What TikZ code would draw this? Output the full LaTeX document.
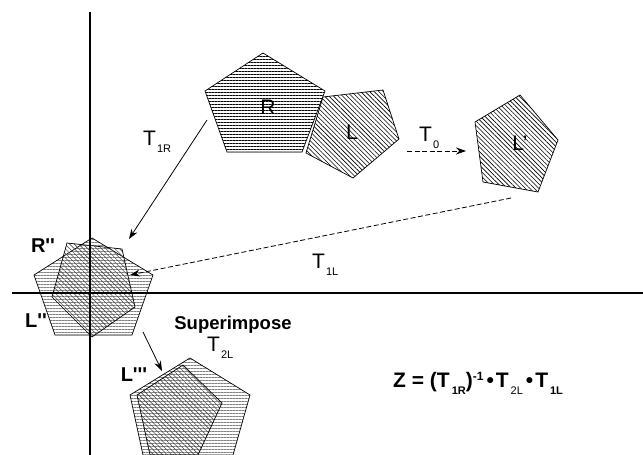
\documentclass[tikz,border=0pt]{standalone}
\usepackage{fontspec}
\setmainfont{Liberation Sans}
\usetikzlibrary{arrows.meta,patterns.meta}
\newcommand{\Tsb}[1]{T\kern1pt\raisebox{-7pt}{\fontsize{11}{11}\selectfont #1}}
\newcommand{\tq}{\textquotesingle}
\begin{document}
\begin{tikzpicture}[x=1pt,y=-1pt,
  lbl/.style={inner sep=0pt, font=\fontsize{21}{21}\selectfont},
  blbl/.style={inner sep=0pt, font=\fontsize{20}{20}\selectfont\bfseries},
  hpent/.style={draw=black, line width=0.7pt, pattern={Lines[angle=0,distance=3pt,line width=0.65pt]}, pattern color=#1},
  hpent/.default=black,
  dpent/.style={draw=black, line width=0.7pt, pattern={Lines[angle=-45,distance=3.2pt,line width=0.6pt]}, pattern color=#1},
  dpent/.default=black,
  axis/.style={line width=1.3pt},
  arr/.style={line width=0.8pt, -{Stealth[length=10pt,width=7pt]}},
  darr/.style={arr, dash pattern=on 5pt off 2.5pt}]
\useasboundingbox (0,0) rectangle (643,455);
\clip (0,0) rectangle (643,455);

% pentagons
\draw[hpent] (263,53) -- (325,91) -- (302,152) -- (227,152) -- (205,91) -- cycle;
\draw[dpent] (323,97) -- (383,90) -- (399,139) -- (353,178) -- (306,153) -- cycle;
\draw[dpent] (520,95) -- (558,140) -- (538,192) -- (483,182) -- (475,122) -- cycle;

\draw[hpent=black!50] (92,238) -- (153,275) -- (132,335) -- (55,335) -- (34,275) -- cycle;
\draw[dpent=black!70] (67,243) -- (122,249) -- (135,307) -- (92,337) -- (52,297) -- cycle;

\draw[hpent=black!50] (190,358) -- (250,395) -- (233,455) -- (143,455) -- (130,395) -- cycle;
\draw[dpent=black!70] (183,365) -- (222,403) -- (198,455) -- (150,455) -- (137,395) -- cycle;

% axes
\coordinate (ytop) at (90,12);
\coordinate (ybot) at (90,455);
\coordinate (xleft) at (12,293);
\coordinate (xright) at (643,293);
\draw[axis] (ytop) -- (ybot);
\draw[axis] (xleft) -- (xright);

% arrows
\coordinate (t1rs) at (207,120);
\coordinate (t1re) at (129,239);
\draw[arr] (t1rs) -- (t1re);
\coordinate (t0s) at (407,151);
\coordinate (t0e) at (466,151);
\draw[darr] (t0s) -- (t0e);
\coordinate (t1ls) at (511,198);
\coordinate (t1le) at (130,275);
\draw[darr] (t1ls) -- (t1le);
\coordinate (t2ls) at (143,332);
\coordinate (t2le) at (162,371);
\draw[arr] (t2ls) -- (t2le);

% labels
\node[lbl] (lR) at (268,107) {R};
\node[lbl] (lL) at (352,132) {L};
\node[lbl] (lLp) at (520,143) {L'};
\node[lbl, anchor=base west] (lT0) at (419,141) {\Tsb{0}};
\node[lbl, anchor=base west] (lT1R) at (143,145) {\Tsb{1R}};
\node[lbl, anchor=base west] (lT1L) at (312,268) {\Tsb{1L}};
\node[blbl] (lRpp) at (43,246) {R\tq\tq};
\node[blbl] (lLpp) at (36,321) {L\tq\tq};
\node[blbl] (lLppp) at (134,375) {L\tq\tq\tq};
\node[inner sep=0pt, anchor=base, font=\fontsize{18.5}{18.5}\selectfont\bfseries] (lsup) at (233,329) {Superimpose};
\node[lbl, anchor=base west] (lT2L) at (207,351) {\Tsb{2L}};
\node[inner sep=0pt, anchor=west, font=\fontsize{21}{21}\selectfont\bfseries] (zeq) at (393,383)
  {Z = (T\kern2pt\raisebox{-7pt}{\fontsize{11}{11}\selectfont 1R})\raisebox{7pt}{\fontsize{12}{12}\selectfont -1}\kern3pt•\kern2ptT\kern2pt\raisebox{-7pt}{\fontsize{11}{11}\selectfont\mdseries 2L}\kern3pt•\kern2ptT\kern2pt\raisebox{-7pt}{\fontsize{11}{11}\selectfont 1L}};
\end{tikzpicture}
\end{document}
